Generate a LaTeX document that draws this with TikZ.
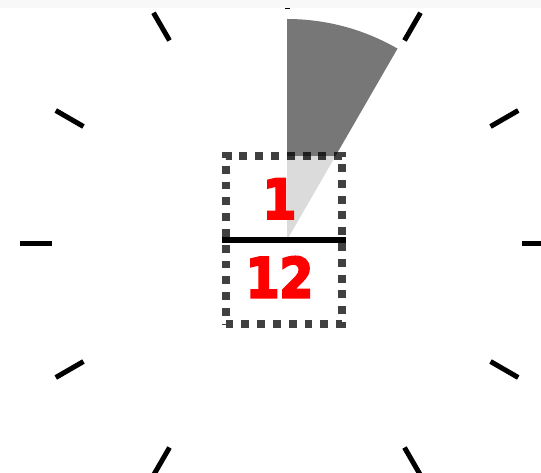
\documentclass[tikz,border=0pt]{standalone}
\usepackage{fontspec}
\usetikzlibrary{calc}
\newfontfamily\digitfont{DejaVu Sans}[BoldFeatures={FakeBold=4,FakeStretch=0.88}]
\definecolor{sectordark}{RGB}{119,119,119}
\definecolor{bandgray}{RGB}{248,248,248}
\definecolor{numred}{RGB}{255,0,0}
\tikzset{
  tickmark/.style={line width=5pt, black},
  fracbox/.style={draw=black, draw opacity=0.75, line width=8pt,
    dash pattern=on 7.9pt off 7.9pt, fill=white, fill opacity=0.74,
    text opacity=1, minimum width=116.5pt, minimum height=168pt, inner sep=0pt},
  fracbar/.style={line width=6.5pt, black},
  numtext/.style={text=numred, font=\digitfont\bfseries\fontsize{55}{55}\selectfont, inner sep=0pt}
}
\begin{document}
\begin{tikzpicture}[x=1pt,y=1pt]
\useasboundingbox (0,0) rectangle (541,472);
\clip (0,0) rectangle (541,472);
\fill[white] (0,0) rectangle (541,472);
\coordinate (tc) at (287,228);
\coordinate (sc) at (287,232);
% ticks
\foreach \k in {0,...,11}{
  \draw[tickmark] ($(tc)+({90-30*\k}:235)$) -- ($(tc)+({90-30*\k}:267)$);
}
% sector
\fill[sectordark] (sc) -- ++(90:221) arc[start angle=90, end angle=60, radius=221] -- cycle;
% band
\fill[bandgray] (0,464.3) rectangle (541,472);
% fraction box
\node[fracbox] (frac) at (283.75,232) {};
\node[numtext] (num) at (279.5,273.3) {1};
\node[numtext] (den) at (279.5,195) {12};
\draw[fracbar] (frac.west) -- (frac.east);
\end{tikzpicture}
\end{document}
